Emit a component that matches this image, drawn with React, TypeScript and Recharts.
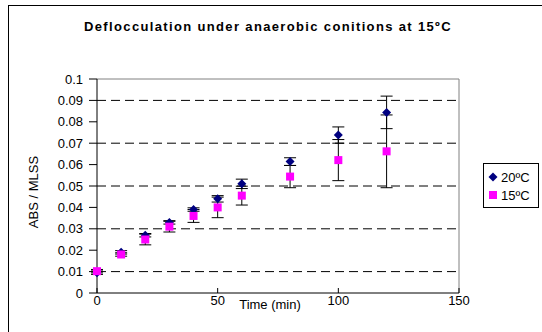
import React from 'react'
import { CartesianGrid, ErrorBar, ReferenceLine, Scatter, ScatterChart, XAxis, YAxis } from 'recharts'

const times = [0, 10, 20, 30, 40, 50, 60, 80, 100, 120]
const abs20 = [0.0095, 0.019, 0.027, 0.033, 0.039, 0.044, 0.051, 0.0614, 0.0738, 0.0844]
const err20 = [0.0008, 0.0008, 0.0008, 0.0008, 0.0008, 0.0015, 0.0022, 0.0018, 0.0038, 0.0076]
const abs15 = [0.0102, 0.018, 0.025, 0.031, 0.036, 0.04, 0.0455, 0.0544, 0.0621, 0.0662]
const err15 = [0.0008, 0.0008, 0.0025, 0.0025, 0.003, 0.0048, 0.0044, 0.0052, 0.0096, 0.017]

const xTicks = [0, 50, 100, 150]
const yTicks = [0, 0.01, 0.02, 0.03, 0.04, 0.05, 0.06, 0.07, 0.08, 0.09, 0.1]
const gridValues = [0.01, 0.02, 0.03, 0.04, 0.05, 0.06, 0.07, 0.08, 0.09]

const title = 'Deflocculation under anaerobic conitions at 15ºC'
const series = [
  { name: '20ºC', color: '#000080', shape: 'diamond', values: abs20, errors: err20 },
  { name: '15ºC', color: '#FF00FF', shape: 'square', values: abs15, errors: err15 },
]

const FONT = 'Arial, "Liberation Sans", sans-serif'

function Diamond(props: any) {
  const { cx, cy, fill } = props
  const r = 4.5
  return <polygon points={`${cx},${cy - r} ${cx + r},${cy} ${cx},${cy + r} ${cx - r},${cy}`} fill={fill} />
}

function Square(props: any) {
  const { cx, cy, fill } = props
  return <rect x={cx - 4} y={cy - 4} width={8} height={8} fill={fill} />
}

function LegendMark({ shape, color }: { shape: string; color: string }) {
  return (
    <svg width={10} height={10} style={{ marginRight: 3 }}>
      {shape === 'diamond' ? <Diamond cx={5} cy={5} fill={color} /> : <rect x={1} y={1} width={8} height={8} fill={color} />}
    </svg>
  )
}

export default function App() {
  return (
    <div style={{ position: 'fixed', left: 0, top: 0, width: 542, height: 332, overflow: 'hidden', fontFamily: FONT, background: '#fff' }}>
      {/* outer chart frame: only top and left edges fall inside the picture */}
      <div style={{ position: 'absolute', left: 8, top: 5, width: 534, height: 1, background: '#000' }} />
      <div style={{ position: 'absolute', left: 8, top: 5, width: 1, height: 327, background: '#000' }} />
      <div style={{ position: 'absolute', left: 0, top: 19, width: 536, textAlign: 'center', fontSize: 13, fontWeight: 'bold', letterSpacing: 1.35 }}>
        {title}
      </div>
      <div style={{ position: 'absolute', left: 0, top: 0 }}>
        <ScatterChart width={542} height={332} margin={{ top: 79, right: 83, bottom: 9, left: 20 }}>
          <CartesianGrid vertical={false} stroke="#000" strokeDasharray="9 5" horizontalValues={gridValues} />
          <XAxis
            type="number"
            dataKey="t"
            domain={[0, 150]}
            ticks={xTicks}
            height={30}
            axisLine={{ stroke: '#000' }}
            tickLine={{ stroke: '#000' }}
            tickSize={-5}
            tickMargin={8}
            tick={{ fill: '#000', fontSize: 13, fontFamily: FONT }}
            label={{
              content: (p: any) => (
                <text x={p.viewBox.x + p.viewBox.width / 2 - 8} y={p.viewBox.y + 16} textAnchor="middle" fontSize={13} fontFamily={FONT} fill="#000">
                  Time (min)
                </text>
              ),
            }}
          />
          <YAxis
            type="number"
            dataKey="v"
            domain={[0, 0.1]}
            ticks={yTicks}
            width={77}
            axisLine={{ stroke: '#000' }}
            tickLine={{ stroke: '#000' }}
            tickSize={8}
            tickMargin={6}
            tickFormatter={(v: number) => String(v)}
            tick={{ fill: '#000', fontSize: 13, fontFamily: FONT }}
            label={{
              content: (p: any) => {
                const x = p.viewBox.x + 13
                const y = p.viewBox.y + p.viewBox.height / 2 + 6
                return (
                  <text x={x} y={y} transform={`rotate(-90, ${x}, ${y})`} textAnchor="middle" dominantBaseline="central" fontSize={13} fontFamily={FONT} fill="#000">
                    ABS / MLSS
                  </text>
                )
              },
            }}
          />
          <ReferenceLine y={0.1} stroke="#808080" />
          <ReferenceLine x={150} stroke="#808080" />
          {series.map((s) => (
            <Scatter
              key={s.name}
              name={s.name}
              data={times.map((t, i) => ({ t, v: s.values[i], err: s.errors[i] }))}
              fill={s.color}
              shape={s.shape === 'diamond' ? <Diamond /> : <Square />}
              isAnimationActive={false}
            >
              <ErrorBar dataKey="err" direction="y" width={6} stroke="#000" strokeWidth={1} />
            </Scatter>
          ))}
        </ScatterChart>
      </div>
      <div style={{ position: 'absolute', left: 483, top: 163, width: 56, height: 45, border: '1px solid #000', fontSize: 13, padding: '4px 0 0 4px', boxSizing: 'border-box' }}>
        {series.map((s) => (
          <div key={s.name} style={{ display: 'flex', alignItems: 'center', height: 18 }}>
            <LegendMark shape={s.shape} color={s.color} />
            <span>{s.name}</span>
          </div>
        ))}
      </div>
    </div>
  )
}
